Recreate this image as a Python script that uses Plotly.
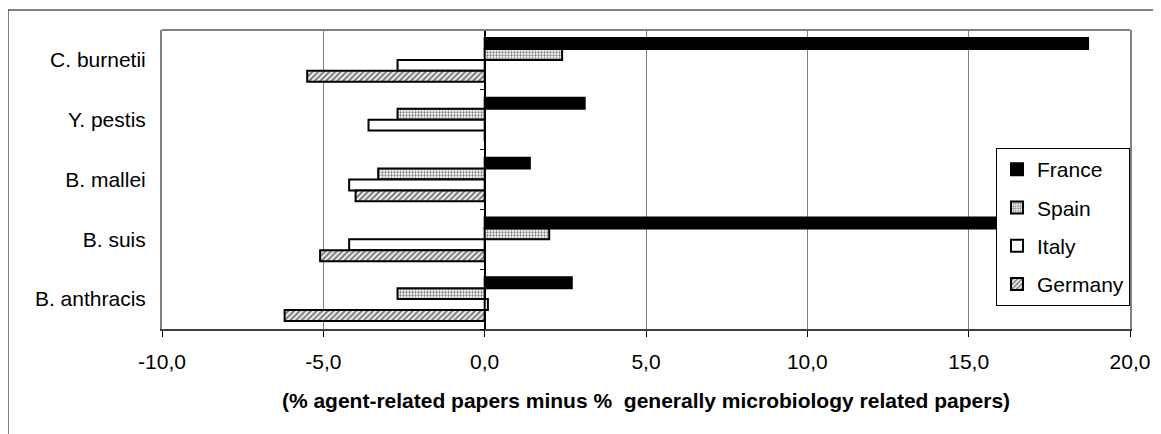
import plotly.graph_objects as go

categories = ["C. burnetii", "Y. pestis", "B. mallei", "B. suis", "B. anthracis"]
france = [18.7, 3.1, 1.4, 20.2, 2.7]
spain = [2.4, -2.7, -3.3, 2.0, -2.7]
italy = [-2.7, -3.6, -4.2, -4.2, 0.1]
germany = [-5.5, 0.0, -4.0, -5.1, -6.2]

tick_vals = [-10, -5, 0, 5, 10, 15, 20]
tick_text = ["-10,0", "-5,0", "0,0", "5,0", "10,0", "15,0", "20,0"]
boundary_vals = [-0.5, 0.5, 1.5, 2.5, 3.5, 4.5]
x_title = "(% agent-related papers minus %  generally microbiology related papers)"

FONT = "Liberation Sans, Arial, sans-serif"
# page body adds an 8 px offset; figure coordinates below are relative to it
W, H = 1153, 426
ML, MR, MT, MB = 154, 31, 22, 105
PW = W - ML - MR
PH = H - MT - MB

fig = go.Figure()
line = dict(color="black", width=2)
fig.add_trace(go.Bar(name="France", y=categories, x=france, orientation="h",
                     marker=dict(color="black", line=line), cliponaxis=False,
                     legendgroup="a"))
fig.add_trace(go.Bar(name="Spain", y=categories, x=spain, orientation="h",
                     marker=dict(color="white", line=line,
                                 pattern=dict(shape=".", size=3, solidity=0.45,
                                              fgcolor="black", bgcolor="white")),
                     legendgroup="b"))
fig.add_trace(go.Bar(name="Italy", y=categories, x=italy, orientation="h",
                     marker=dict(color="white", line=line), legendgroup="c"))
fig.add_trace(go.Bar(name="Germany", y=categories, x=germany, orientation="h",
                     marker=dict(color="white", line=line,
                                 pattern=dict(shape="/", size=4, solidity=0.55,
                                              fgcolor="black", bgcolor="white")),
                     legendgroup="d"))
# helper trace carrying the tick axis at x = 0
fig.add_trace(go.Scatter(x=[None], y=[None], yaxis="y2", showlegend=False,
                         hoverinfo="skip"))

zero_pos = (0 - tick_vals[0]) / (tick_vals[-1] - tick_vals[0])

fig.update_layout(
    width=W, height=H,
    margin=dict(l=ML, r=MR, t=MT, b=MB, pad=0),
    paper_bgcolor="white", plot_bgcolor="white",
    font=dict(family=FONT, size=21, color="black"),
    barmode="group", bargap=0.27, bargroupgap=0,
    separators=",.",
    showlegend=True,
    legend=dict(x=1, xanchor="right", y=1 - (140 - MT) / PH, yanchor="top",
                bgcolor="white", bordercolor="black", borderwidth=1,
                font=dict(family=FONT, size=21), traceorder="grouped",
                tracegroupgap=8, itemwidth=30),
    xaxis=dict(range=[tick_vals[0], tick_vals[-1]], tickvals=tick_vals, ticktext=tick_text,
               showgrid=True, gridcolor="#808080", gridwidth=1,
               zeroline=True, zerolinecolor="black", zerolinewidth=2,
               showline=True, linecolor="#404040", linewidth=2,
               ticks="outside", ticklen=6, tickcolor="black", tickwidth=1,
               ticklabelstandoff=7,
               tickfont=dict(size=21),
               title=dict(text="<b>" + x_title + "</b>", font=dict(size=21), standoff=21)),
    yaxis=dict(categoryorder="array", categoryarray=categories, autorange="reversed",
               showgrid=False, showline=True, linecolor="#808080", linewidth=2, mirror=True,
               ticks="", ticklabelstandoff=10, tickfont=dict(size=21)),
    yaxis2=dict(overlaying="y", anchor="free", position=zero_pos, side="left",
                range=[4.5, -0.5], tickvals=boundary_vals, ticks="outside", ticklen=5,
                tickcolor="black", tickwidth=1, showticklabels=False, showgrid=False,
                showline=False, zeroline=False),
    shapes=[
        dict(type="line", xref="paper", yref="paper", x0=0, x1=1, y0=1, y1=1,
             line=dict(color="#808080", width=2), layer="above"),
        dict(type="rect", xref="paper", yref="paper",
             x0=(0 - ML) / PW, x1=(W + 10 - ML) / PW,
             y0=-(H + 10 - MT - PH) / PH, y1=1 + (MT - 2) / PH,
             line=dict(color="black", width=1), fillcolor="rgba(0,0,0,0)", layer="below"),
    ],
)

fig.write_html("out.html")
